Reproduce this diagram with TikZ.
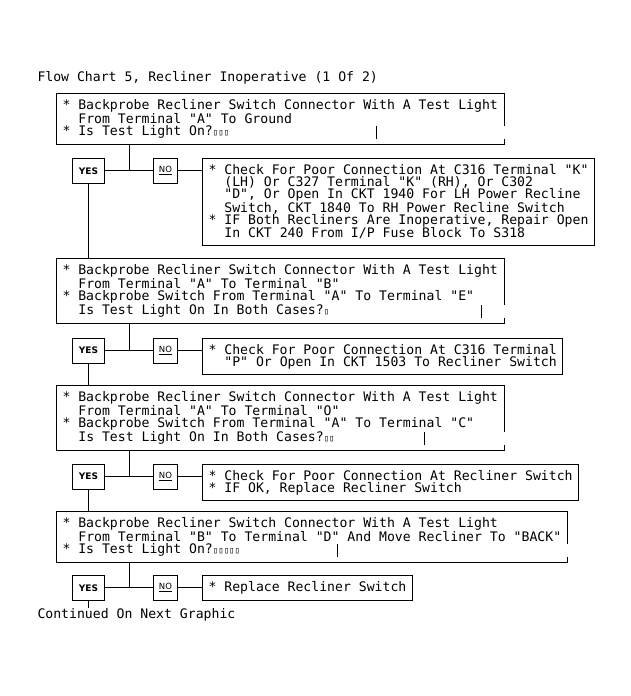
\documentclass[tikz,border=0pt]{standalone}
\usepackage{fontspec}
\newfontfamily\chartfont{DejaVu Sans Mono}
\newfontfamily\labelfont{DejaVu Sans}
\usetikzlibrary{positioning}

\newcommand{\ind}{\phantom{**}}
\newcommand{\nogl}{{\fontsize{9}{12}\selectfont ▯}}

\tikzset{
  stepbox/.style={anchor=north west, align=left, inner xsep=6pt, inner ysep=6pt, font=\chartfont\fontsize{13.15}{12}\selectfont},
  fixbox/.style={stepbox, draw},
  yesbox/.style={draw, minimum width=32pt, minimum height=25pt, inner sep=0pt, font=\labelfont\bfseries\fontsize{9}{10}\selectfont},
  nobox/.style={draw, minimum width=24pt, minimum height=25pt, inner sep=0pt, font=\labelfont\fontsize{8.5}{10}\selectfont},
  plain/.style={anchor=base west, inner sep=0pt, font=\chartfont\fontsize{13.15}{12}\selectfont}
}

\begin{document}
\begin{tikzpicture}[x=1pt, y=1pt, line width=1pt]
\useasboundingbox (0,0) rectangle (631,-696);

% Title
\node[plain] (title) at (37,-81) {Flow Chart 5, Recliner Inoperative (1 Of 2)};

% Test steps
\node[stepbox] (box1) at (56,-93) {
    * Backprobe Recliner Switch Connector With A Test Light\\
    \ind From Terminal "A" To Ground\\
    * Is Test Light On?\nogl\nogl\nogl
};
\node[stepbox] (box2) at (56,-258) {
    * Backprobe Recliner Switch Connector With A Test Light\\
    \ind From Terminal "A" To Terminal "B"\\
    * Backprobe Switch From Terminal "A" To Terminal "E"\\
    \ind Is Test Light On In Both Cases?\nogl
};
\node[stepbox] (box3) at (56,-385) {
    * Backprobe Recliner Switch Connector With A Test Light\\
    \ind From Terminal "A" To Terminal "O"\\
    * Backprobe Switch From Terminal "A" To Terminal "C"\\
    \ind Is Test Light On In Both Cases?\nogl\nogl
};
\node[stepbox] (box4) at (56,-511) {
    * Backprobe Recliner Switch Connector With A Test Light\\
    \ind From Terminal "B" To Terminal "D" And Move Recliner To "BACK"\\
    * Is Test Light On?\nogl\nogl\nogl\nogl\nogl
};

% Outlines (right side broken as printed)
\draw ([yshift=19pt]box1.south east) |- (box1.north west) |- (box1.south east) -- ++(0,6);
\draw (box1.south east) ++(-128,6) -- ++(0,13);
\draw ([yshift=19pt]box2.south east) |- (box2.north west) |- (box2.south east) -- ++(0,6);
\draw (box2.south east) ++(-23,6) -- ++(0,13);
\draw ([yshift=19pt]box3.south east) |- (box3.north west) |- (box3.south east) -- ++(0,6);
\draw (box3.south east) ++(-80,6) -- ++(0,13);
\draw ([yshift=19pt]box4.south east) |- (box4.north west) |- (box4.south east) -- ++(0,6);
\draw (box4.south east) ++(-230,6) -- ++(0,13);

% Row 1
\node[yesbox, below right=13pt and 16pt of box1.south west] (yes1) {YES};
\node[nobox, right=48pt of yes1] (no1) {\underline{NO}};
\node[fixbox, right=24pt of no1.north east, anchor=north west] (res1) {
    * Check For Poor Connection At C316 Terminal "K"\\
    \ind (LH) Or C327 Terminal "K" (RH), Or C302\\
    \ind "D", Or Open In CKT 1940 For LH Power Recline\\
    \ind Switch, CKT 1840 To RH Power Recline Switch\\
    * IF Both Recliners Are Inoperative, Repair Open\\
    \ind In CKT 240 From I/P Fuse Block To S318
};
\coordinate[right=24pt of yes1] (j1);
\draw (box1.south -| j1) -- (j1);
\draw (yes1) -- (no1);
\draw (no1) -- (no1 -| res1.west);
\draw (yes1) -- (yes1 |- box2.north);

% Row 2
\node[yesbox, below right=14pt and 16pt of box2.south west] (yes2) {YES};
\node[nobox, right=48pt of yes2] (no2) {\underline{NO}};
\node[fixbox, right=24pt of no2.north east, anchor=north west] (res2) {
    * Check For Poor Connection At C316 Terminal\\
    \ind "P" Or Open In CKT 1503 To Recliner Switch
};
\coordinate[right=24pt of yes2] (j2);
\draw (box2.south -| j2) -- (j2);
\draw (yes2) -- (no2);
\draw (no2) -- (no2 -| res2.west);
\draw (yes2) -- (yes2 |- box3.north);

% Row 3
\node[yesbox, below right=13pt and 16pt of box3.south west] (yes3) {YES};
\node[nobox, right=48pt of yes3] (no3) {\underline{NO}};
\node[fixbox, right=24pt of no3.north east, anchor=north west] (res3) {
    * Check For Poor Connection At Recliner Switch\\
    * IF OK, Replace Recliner Switch
};
\coordinate[right=24pt of yes3] (j3);
\draw (box3.south -| j3) -- (j3);
\draw (yes3) -- (no3);
\draw (no3) -- (no3 -| res3.west);
\draw (yes3) -- (yes3 |- box4.north);

% Row 4
\node[yesbox, below right=12pt and 16pt of box4.south west] (yes4) {YES};
\node[nobox, right=48pt of yes4] (no4) {\underline{NO}};
\node[fixbox, right=24pt of no4.north east, anchor=north west] (res4) {* Replace Recliner Switch};
\coordinate[right=24pt of yes4] (j4);
\draw (box4.south -| j4) -- (j4);
\draw (yes4) -- (no4);
\draw (no4) -- (no4 -| res4.west);

% Continuation
\node[plain] (cont) at (37,-618) {Continued On Next Graphic};
\draw (yes4) -- (yes4 |- cont.north);
\end{tikzpicture}
\end{document}
